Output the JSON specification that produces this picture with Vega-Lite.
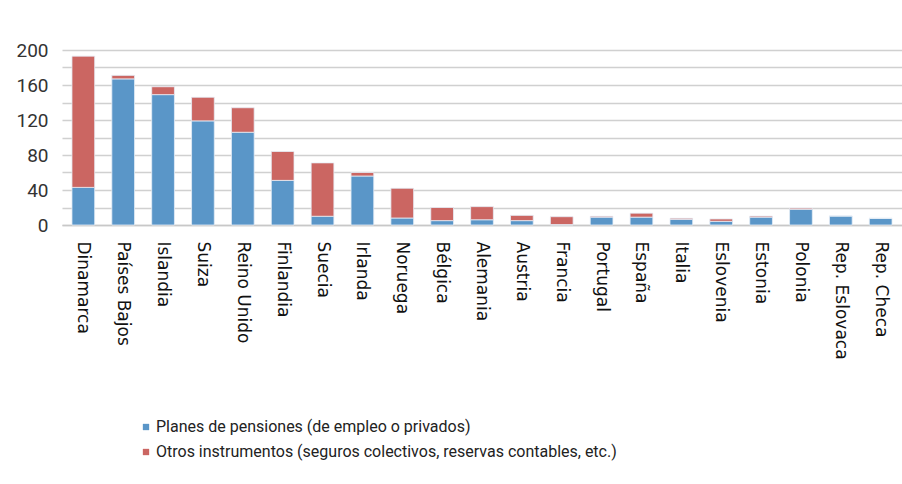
{
  "$schema": "https://vega.github.io/schema/vega-lite/v6.json",
  "width": 840,
  "height": 175,
  "autosize": {"type": "none"},
  "padding": {"left": 62, "top": 50, "right": 0, "bottom": 259},
  "background": "white",
  "data": {
    "values": [
      {"pais": "Dinamarca", "serie": "Planes de pensiones (de empleo o privados)", "valor": 43},
      {"pais": "Dinamarca", "serie": "Otros instrumentos (seguros colectivos, reservas contables, etc.)", "valor": 150},
      {"pais": "Países Bajos", "serie": "Planes de pensiones (de empleo o privados)", "valor": 167},
      {"pais": "Países Bajos", "serie": "Otros instrumentos (seguros colectivos, reservas contables, etc.)", "valor": 4},
      {"pais": "Islandia", "serie": "Planes de pensiones (de empleo o privados)", "valor": 149},
      {"pais": "Islandia", "serie": "Otros instrumentos (seguros colectivos, reservas contables, etc.)", "valor": 9},
      {"pais": "Suiza", "serie": "Planes de pensiones (de empleo o privados)", "valor": 119},
      {"pais": "Suiza", "serie": "Otros instrumentos (seguros colectivos, reservas contables, etc.)", "valor": 27},
      {"pais": "Reino Unido", "serie": "Planes de pensiones (de empleo o privados)", "valor": 106},
      {"pais": "Reino Unido", "serie": "Otros instrumentos (seguros colectivos, reservas contables, etc.)", "valor": 28},
      {"pais": "Finlandia", "serie": "Planes de pensiones (de empleo o privados)", "valor": 51},
      {"pais": "Finlandia", "serie": "Otros instrumentos (seguros colectivos, reservas contables, etc.)", "valor": 33},
      {"pais": "Suecia", "serie": "Planes de pensiones (de empleo o privados)", "valor": 10},
      {"pais": "Suecia", "serie": "Otros instrumentos (seguros colectivos, reservas contables, etc.)", "valor": 61},
      {"pais": "Irlanda", "serie": "Planes de pensiones (de empleo o privados)", "valor": 56},
      {"pais": "Irlanda", "serie": "Otros instrumentos (seguros colectivos, reservas contables, etc.)", "valor": 4},
      {"pais": "Noruega", "serie": "Planes de pensiones (de empleo o privados)", "valor": 8},
      {"pais": "Noruega", "serie": "Otros instrumentos (seguros colectivos, reservas contables, etc.)", "valor": 34},
      {"pais": "Bélgica", "serie": "Planes de pensiones (de empleo o privados)", "valor": 5},
      {"pais": "Bélgica", "serie": "Otros instrumentos (seguros colectivos, reservas contables, etc.)", "valor": 15},
      {"pais": "Alemania", "serie": "Planes de pensiones (de empleo o privados)", "valor": 6},
      {"pais": "Alemania", "serie": "Otros instrumentos (seguros colectivos, reservas contables, etc.)", "valor": 15},
      {"pais": "Austria", "serie": "Planes de pensiones (de empleo o privados)", "valor": 5},
      {"pais": "Austria", "serie": "Otros instrumentos (seguros colectivos, reservas contables, etc.)", "valor": 6},
      {"pais": "Francia", "serie": "Planes de pensiones (de empleo o privados)", "valor": 0.5},
      {"pais": "Francia", "serie": "Otros instrumentos (seguros colectivos, reservas contables, etc.)", "valor": 9},
      {"pais": "Portugal", "serie": "Planes de pensiones (de empleo o privados)", "valor": 9},
      {"pais": "Portugal", "serie": "Otros instrumentos (seguros colectivos, reservas contables, etc.)", "valor": 1},
      {"pais": "España", "serie": "Planes de pensiones (de empleo o privados)", "valor": 9},
      {"pais": "España", "serie": "Otros instrumentos (seguros colectivos, reservas contables, etc.)", "valor": 4.5},
      {"pais": "Italia", "serie": "Planes de pensiones (de empleo o privados)", "valor": 6.5},
      {"pais": "Italia", "serie": "Otros instrumentos (seguros colectivos, reservas contables, etc.)", "valor": 1.2},
      {"pais": "Eslovenia", "serie": "Planes de pensiones (de empleo o privados)", "valor": 4.2},
      {"pais": "Eslovenia", "serie": "Otros instrumentos (seguros colectivos, reservas contables, etc.)", "valor": 2.7},
      {"pais": "Estonia", "serie": "Planes de pensiones (de empleo o privados)", "valor": 9},
      {"pais": "Estonia", "serie": "Otros instrumentos (seguros colectivos, reservas contables, etc.)", "valor": 1.2},
      {"pais": "Polonia", "serie": "Planes de pensiones (de empleo o privados)", "valor": 18},
      {"pais": "Polonia", "serie": "Otros instrumentos (seguros colectivos, reservas contables, etc.)", "valor": 1.3},
      {"pais": "Rep. Eslovaca", "serie": "Planes de pensiones (de empleo o privados)", "valor": 10.3},
      {"pais": "Rep. Eslovaca", "serie": "Otros instrumentos (seguros colectivos, reservas contables, etc.)", "valor": 0},
      {"pais": "Rep. Checa", "serie": "Planes de pensiones (de empleo o privados)", "valor": 7.6},
      {"pais": "Rep. Checa", "serie": "Otros instrumentos (seguros colectivos, reservas contables, etc.)", "valor": 0}
    ]
  },
  "mark": {"type": "bar", "stroke": "#e6eef6", "strokeWidth": 0.8},
  "encoding": {
    "x": {
      "field": "pais",
      "type": "nominal",
      "sort": null,
      "title": null,
      "scale": {"paddingInner": 0.43, "paddingOuter": 0.25},
      "axis": {
        "labelAngle": 90,
        "labelAlign": "left",
        "labelBaseline": "middle",
        "labelPadding": 16,
        "labelFont": "DejaVu Sans",
        "labelFontSize": 17,
        "labelColor": "#111111",
        "ticks": false,
        "domainColor": "#c8c8c8",
        "domainWidth": 1.5,
        "labelOverlap": false
      }
    },
    "y": {
      "field": "valor",
      "type": "quantitative",
      "stack": "zero",
      "title": null,
      "scale": {"domain": [0, 200], "nice": false},
      "axis": {
        "values": [0, 20, 40, 60, 80, 100, 120, 140, 160, 180, 200],
        "labelExpr": "datum.value % 40 == 0 ? datum.label : ''",
        "gridColor": "#d0d0d0",
        "gridWidth": 1.5,
        "domain": false,
        "ticks": false,
        "labelPadding": 14,
        "labelFont": "Roboto",
        "labelFontSize": 19,
        "labelColor": "#333333",
        "labelOverlap": false
      }
    },
    "color": {
      "field": "serie",
      "type": "nominal",
      "sort": null,
      "scale": {
        "domain": ["Planes de pensiones (de empleo o privados)", "Otros instrumentos (seguros colectivos, reservas contables, etc.)"],
        "range": ["#5A96C8", "#CB6662"]
      },
      "legend": {
        "title": null,
        "orient": "none",
        "legendX": 76,
        "legendY": 369,
        "direction": "vertical",
        "symbolType": "square",
        "symbolSize": 40,
        "symbolStrokeWidth": 0,
        "labelFont": "Roboto",
        "labelFontSize": 16,
        "labelColor": "#222222",
        "labelOffset": 2,
        "labelLimit": 700,
        "rowPadding": 9
      }
    },
    "order": {"field": "serie", "sort": "descending"}
  },
  "config": {
    "view": {"stroke": null}
  }
}
